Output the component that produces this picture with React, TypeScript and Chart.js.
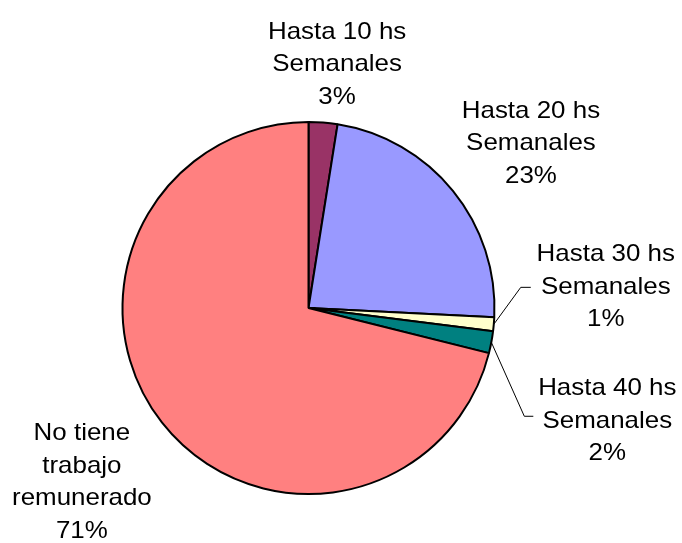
import React, { useEffect, useRef } from "react";
import { Chart, registerables } from "chart.js";

Chart.register(...registerables);

// Data (percent of respondents), clockwise from 12 o'clock
const categories: string[][] = [
  ["Hasta 10 hs", "Semanales"],
  ["Hasta 20 hs", "Semanales"],
  ["Hasta 30 hs", "Semanales"],
  ["Hasta 40 hs", "Semanales"],
  ["No tiene", "trabajo", "remunerado"],
];
const values: number[] = [2.5, 23.3, 1.2, 1.9, 71.1];
const colors: string[] = ["#993366", "#9999FF", "#FFFFCC", "#008080", "#FF8080"];

// Label placement (offset from the slice's outer mid-point to first-line baseline)
const labelOffsets = [
  { dx: 14, dy: -84, leader: null as null | { ex: number; ey: number; h: number } },
  { dx: 78, dy: -73, leader: null },
  { dx: 112, dy: -63, leader: { ex: 27, ey: -37, h: 10 } },
  { dx: 116, dy: 53, leader: { ex: 33, ey: 74, h: 9 } },
  { dx: -80, dy: 18, leader: null },
];

const FONT_SIZE = 24;
const LINE_H = 32.5;
const SCALE_X = 1.08;

const labelPlugin = {
  id: "pieLabels",
  afterDraw(chart: any) {
    const ctx = chart.ctx as CanvasRenderingContext2D;
    const meta = chart.getDatasetMeta(0);
    const total = values.reduce((a, b) => a + b, 0);
    meta.data.forEach((arc: any, i: number) => {
      const p = arc.getProps(["x", "y", "startAngle", "endAngle", "outerRadius"], true);
      const mid = (p.startAngle + p.endAngle) / 2;
      const px = p.x + Math.cos(mid) * p.outerRadius;
      const py = p.y + Math.sin(mid) * p.outerRadius;
      const off = labelOffsets[i];
      const lines = [...categories[i], Math.round((values[i] / total) * 100) + "%"];
      ctx.save();
      if (off.leader) {
        ctx.strokeStyle = "#000";
        ctx.lineWidth = 1;
        ctx.beginPath();
        ctx.moveTo(px, py);
        const ex = px + off.leader.ex;
        const ey = py + off.leader.ey;
        ctx.lineTo(ex, ey);
        ctx.lineTo(ex + off.leader.h, ey);
        ctx.stroke();
      }
      ctx.fillStyle = "#000";
      ctx.font = `${FONT_SIZE}px "Liberation Sans", Arial, sans-serif`;
      ctx.textAlign = "center";
      ctx.textBaseline = "alphabetic";
      const cx = px + off.dx;
      const by = py + off.dy;
      lines.forEach((ln, k) => {
        ctx.save();
        ctx.translate(cx, by + k * LINE_H);
        ctx.scale(SCALE_X, 1);
        ctx.fillText(ln, 0, 0);
        ctx.restore();
      });
      ctx.restore();
    });
  },
};

export default function App() {
  const ref = useRef<HTMLCanvasElement | null>(null);
  useEffect(() => {
    if (!ref.current) return;
    const chart = new Chart(ref.current, {
      type: "pie",
      data: {
        labels: categories.map((c) => c.join(" ")),
        datasets: [
          {
            data: values,
            backgroundColor: colors,
            borderColor: "#000",
            borderWidth: 2,
          },
        ],
      },
      options: {
        responsive: false,
        animation: false,
        radius: 186,
        layout: { padding: { left: 121, right: 186, top: 120, bottom: 47 } },
        plugins: {
          legend: { display: false },
          tooltip: { enabled: false },
        },
      } as any,
      plugins: [labelPlugin],
    });
    return () => chart.destroy();
  }, []);
  return (
    <div style={{ position: "absolute", left: 0, top: 0, width: 682, height: 543, background: "#fff" }}>
      <canvas ref={ref} width={682} height={543} style={{ display: "block" }} />
    </div>
  );
}
